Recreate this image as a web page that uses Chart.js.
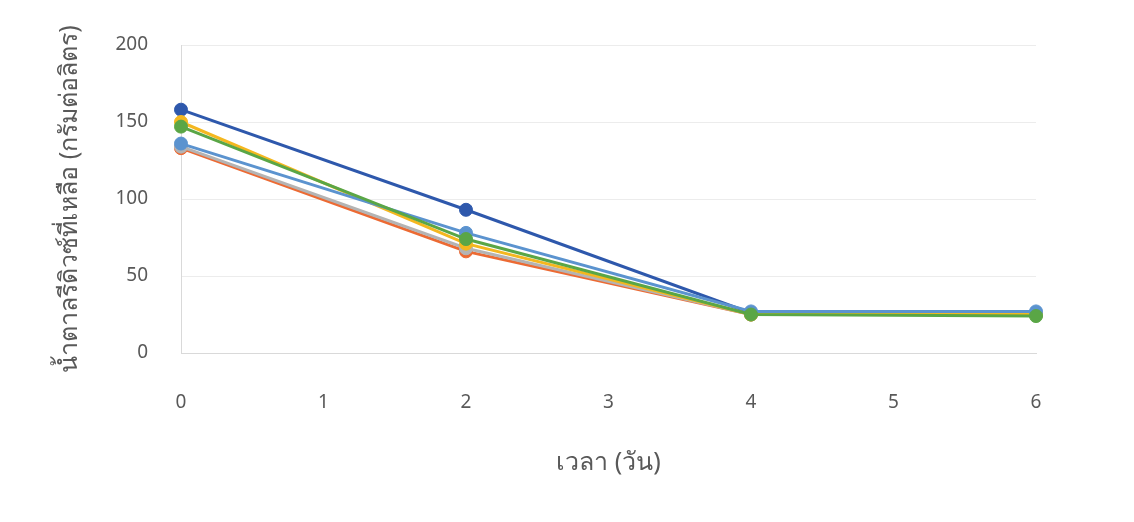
<!DOCTYPE html>
<html>
<head>
<meta charset="utf-8">
<script src="https://cdn.jsdelivr.net/npm/chart.js@4/dist/chart.umd.min.js"></script>
<style>
  html, body { margin: 0; padding: 0; background: #ffffff; }
  #wrap { width: 1134px; height: 522px; }
</style>
</head>
<body>
<div id="wrap"><canvas id="c" width="1134" height="522"></canvas></div>
<script>
// Sampling days
const days = [0, 2, 4, 6];

// Remaining reducing sugar (g/L), one array per treatment
const seriesA = [158, 93, 26, 25];   // dark blue
const seriesB = [133, 66, 25, 25];   // orange
const seriesC = [134, 68, 25, 25];   // gray
const seriesD = [150, 71, 25, 25];   // yellow
const seriesE = [136, 78, 27, 27];   // light blue
const seriesF = [147, 74, 25, 24];   // green

const yTicks = [0, 50, 100, 150, 200];
const xTicks = [0, 1, 2, 3, 4, 5, 6];

const colors = ['#2E58AC', '#EC6A33', '#B4B4B4', '#F4B71F', '#5B93CF', '#5AA646'];
const allSeries = [seriesA, seriesB, seriesC, seriesD, seriesE, seriesF];

const FONT = "'Noto Sans', 'Open Sans', 'DejaVu Sans', sans-serif";

// later series are painted over earlier ones
const datasets = allSeries.map((vals, i) => ({
  label: 'S' + (i + 1),
  data: days.map((d, j) => ({ x: d, y: vals[j] })),
  order: allSeries.length - i,
  borderColor: colors[i],
  backgroundColor: colors[i],
  pointBackgroundColor: colors[i],
  pointBorderColor: colors[i],
  borderWidth: 3,
  pointRadius: 6.5,
  pointBorderWidth: 1,
  tension: 0,
  clip: false
}));

new Chart(document.getElementById('c'), {
  type: 'line',
  data: { datasets },
  options: {
    responsive: false,
    animation: false,
    layout: { padding: { top: 45, right: 98, left: 0, bottom: 0 } },
    plugins: { legend: { display: false }, tooltip: { enabled: false } },
    scales: {
      x: {
        type: 'linear',
        min: 0, max: 6,
        afterBuildTicks: s => { s.ticks = xTicks.map(v => ({ value: v })); },
        afterFit: s => { s.height = 169; },
        grid: { display: false, drawTicks: false },
        border: { display: true, color: '#d9d9d9', width: 1 },
        ticks: { color: '#595959', padding: 38, font: { family: FONT, size: 19 } },
        title: {
          display: true,
          text: 'เวลา (วัน)',
          color: '#595959',
          font: { family: FONT, size: 25 },
          padding: { top: 0, bottom: 44 }
        }
      },
      y: {
        min: 0, max: 200,
        afterBuildTicks: s => { s.ticks = yTicks.map(v => ({ value: v })); },
        afterFit: s => { s.width = 181; },
        grid: { color: '#ececec', drawTicks: false, lineWidth: 1 },
        border: { display: true, color: '#d9d9d9', width: 1 },
        ticks: { color: '#595959', padding: 33, font: { family: FONT, size: 19 } },
        title: {
          display: true,
          text: 'น้ำตาลรีดิวซ์ที่เหลือ (กรัมต่อลิตร)',
          color: '#595959',
          font: { family: FONT, size: 25 },
          padding: { top: 55, bottom: 0 }
        }
      }
    }
  }
});
</script>
</body>
</html>
